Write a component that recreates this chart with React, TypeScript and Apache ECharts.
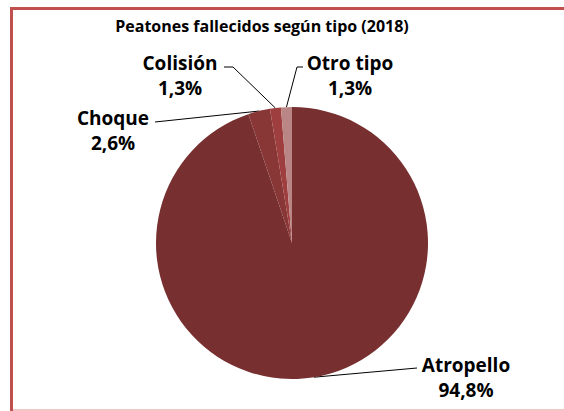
import React, { useEffect, useRef } from "react";
import * as echarts from "echarts";

const categories = ["Atropello", "Choque", "Colisión", "Otro tipo"];
const values = [73, 2, 1, 1];
const colors = ["#772F2F", "#883636", "#9E3E3E", "#B98585"];
const titleText = "Peatones fallecidos según tipo (2018)";

// label placement (layout only): center of text block, and line bend/end points
const labelPos: Record<string, { x: number; y: number; bend: number[]; end: number[] }> = {
  "Atropello": { x: 466, y: 377, bend: [417, 368], end: [417, 368] },
  "Choque": { x: 113, y: 130, bend: [155, 122], end: [155, 122] },
  "Colisión": { x: 180, y: 75, bend: [233, 67], end: [224, 67] },
  "Otro tipo": { x: 350, y: 75, bend: [297, 67], end: [303, 67] },
};

export default function App() {
  const ref = useRef<HTMLDivElement>(null);
  useEffect(() => {
    if (!ref.current) return;
    const chart = echarts.init(ref.current, null, { renderer: "svg" });
    chart.setOption({
      animation: false,
      backgroundColor: "#ffffff",
      graphic: [
        { type: "rect", shape: { x: 10, y: 7, width: 3, height: 404 }, style: { fill: "#C0504D" }, z: 100 },
        { type: "rect", shape: { x: 10, y: 7, width: 554, height: 3 }, style: { fill: "#C0504D" }, z: 100 },
        { type: "rect", shape: { x: 13, y: 409, width: 551, height: 2 }, style: { fill: "#F2C6C6" }, z: 100 },
        {
          type: "text",
          x: 262,
          y: 26,
          style: {
            text: titleText,
            font: "bold 16px 'Open Sans'",
            fill: "#000000",
            textAlign: "center",
            textVerticalAlign: "middle",
          },
        },
      ],
      series: [
        {
          type: "pie",
          center: [292, 243],
          radius: [0, 136],
          startAngle: 90,
          clockwise: true,
          percentPrecision: 1,
          data: categories.map((c, i) => ({ name: c, value: values[i], itemStyle: { color: colors[i] } })),
          itemStyle: { borderWidth: 0 },
          label: {
            show: true,
            position: "outside",
            formatter: (p: any) => `${p.name}\n${p.percent.toFixed(1).replace(".", ",")}%`,
            fontFamily: "Open Sans",
            fontWeight: "bold",
            fontSize: 19,
            lineHeight: 25,
            color: "#000000",
            align: "center",
          },
          labelLine: { show: true, lineStyle: { color: "#000000", width: 1 }, length: 10, length2: 10 },
          labelLayout: (params: any) => {
            const name = categories[params.dataIndex];
            const lp = labelPos[name];
            const start = params.labelLinePoints ? params.labelLinePoints[0] : lp.bend;
            return {
              x: lp.x,
              y: lp.y,
              align: "center",
              verticalAlign: "middle",
              labelLinePoints: [start, lp.bend, lp.end],
            };
          },
          emphasis: { disabled: true },
        },
      ],
    });
    return () => chart.dispose();
  }, []);
  return <div ref={ref} style={{ position: "fixed", left: 0, top: 0, width: 564, height: 411 }} />;
}
